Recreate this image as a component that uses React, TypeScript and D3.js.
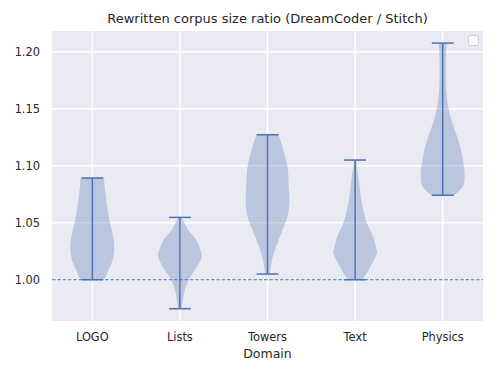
import React from "react";
import * as d3 from "d3";

// domains on the x axis
const domains = ["LOGO", "Lists", "Towers", "Text", "Physics"];

// extrema of each violin (min / max caps)
const mins = [1.0, 0.9746, 1.005, 1.0, 1.0741];
const maxs = [1.0892, 1.0547, 1.1272, 1.105, 1.2076];

// density profile of each violin: [ratio, relative density]
const logoProfile: [number, number][] = [
  [1.0006, 0.56], [1.0085, 0.74], [1.0173, 0.93], [1.026, 1.0], [1.0348, 0.98],
  [1.0497, 0.81], [1.061, 0.7], [1.0787, 0.58], [1.0892, 0.53],
];
const listsProfile: [number, number][] = [
  [0.9746, 0.08], [0.9883, 0.19], [0.9971, 0.33], [1.0059, 0.59], [1.0146, 0.88],
  [1.0217, 1.0], [1.026, 0.94], [1.0348, 0.75], [1.0436, 0.38], [1.0547, 0.08],
];
const towersProfile: [number, number][] = [
  [1.005, 0.1], [1.019, 0.23], [1.0304, 0.42], [1.0427, 0.67], [1.0568, 0.93],
  [1.069, 1.0], [1.0804, 0.97], [1.098, 0.92], [1.1155, 0.7], [1.1272, 0.5],
];
const textProfile: [number, number][] = [
  [1.0, 0.32], [1.0068, 0.56], [1.0155, 0.81], [1.0243, 1.0], [1.0269, 0.97],
  [1.0392, 0.79], [1.0506, 0.52], [1.0682, 0.3], [1.0857, 0.18], [1.105, 0.04],
];
const physicsProfile: [number, number][] = [
  [1.0741, 0.52], [1.082, 0.93], [1.09, 1.0], [1.1, 0.97], [1.11, 0.88],
  [1.12, 0.75], [1.13, 0.58], [1.14, 0.4], [1.155, 0.22], [1.17, 0.15],
  [1.19, 0.14], [1.2076, 0.18],
];
const profiles = [logoProfile, listsProfile, towersProfile, textProfile, physicsProfile];

const yTicks = [1.0, 1.05, 1.1, 1.15, 1.2];
const baseline = 1.0;

const W = 498;
const H = 374;
const margin = { left: 52, right: 15, top: 31, bottom: 53 };
const blue = "#4C72B0";
const ink = "#262626";
const font = "DejaVu Sans, sans-serif";

export default function App() {
  const x = d3.scaleLinear().domain([0.54, 5.46]).range([margin.left, W - margin.right]);
  const y = d3.scaleLinear().domain([0.9638, 1.2182]).range([H - margin.bottom, margin.top]);
  const halfW = x(1.25) - x(1);
  const capW = x(1.125) - x(1);

  const [x0, x1] = x.range();
  const [yb, yt] = y.range();

  return (
    <svg width={W} height={H} style={{ position: "absolute", left: 0, top: 0, background: "#fff" }}>
      <rect x={x0} y={yt} width={x1 - x0} height={yb - yt} fill="#EAEAF2" />

      {/* grid */}
      {yTicks.map(t => (
        <line key={"gy" + t} x1={x0} x2={x1} y1={y(t)} y2={y(t)} stroke="#fff" strokeWidth={1.4} />
      ))}
      {domains.map((d, i) => (
        <line key={"gx" + d} x1={x(i + 1)} x2={x(i + 1)} y1={yt} y2={yb} stroke="#fff" strokeWidth={1.4} />
      ))}

      {/* violins */}
      {profiles.map((p, i) => {
        const cx = x(i + 1);
        const area = d3
          .area<[number, number]>()
          .y(d => y(d[0]))
          .x0(d => cx - d[1] * halfW)
          .x1(d => cx + d[1] * halfW)
          .curve(d3.curveCatmullRom);
        return <path key={"v" + i} d={area(p) || ""} fill={blue} fillOpacity={0.3} />;
      })}

      {/* baseline */}
      <line x1={x0} x2={x1} y1={y(baseline)} y2={y(baseline)} stroke={blue} strokeWidth={1.1}
        strokeDasharray="3.7,1.6" />

      {/* bars and caps */}
      {domains.map((d, i) => {
        const cx = x(i + 1);
        return (
          <g key={"b" + d} stroke={blue} strokeWidth={1.5}>
            <line x1={cx} x2={cx} y1={y(mins[i])} y2={y(maxs[i])} />
            <line x1={cx - capW} x2={cx + capW} y1={y(mins[i])} y2={y(mins[i])} />
            <line x1={cx - capW} x2={cx + capW} y1={y(maxs[i])} y2={y(maxs[i])} />
          </g>
        );
      })}

      {/* empty legend */}
      <rect x={468.5} y={35.5} width={10} height={10} rx={2} fill="#fff" fillOpacity={0.8} stroke="#cccccc" />

      {/* tick labels */}
      {yTicks.map(t => (
        <text key={"ty" + t} x={x0 - 12} y={y(t)} dy="0.35em" textAnchor="end" fontFamily={font} fontSize={11.4} fill={ink}>
          {t.toFixed(2)}
        </text>
      ))}
      {domains.map((d, i) => (
        <text key={"tx" + d} x={x(i + 1)} y={yb + 20} textAnchor="middle" fontFamily={font} fontSize={11.4} fill={ink}>
          {d}
        </text>
      ))}

      <text x={(x0 + x1) / 2} y={yb + 37} textAnchor="middle" fontFamily={font} fontSize={12.5} fill={ink}>Domain</text>
      <text x={(x0 + x1) / 2} y={yt - 8} textAnchor="middle" fontFamily={font} fontSize={13} fill={ink}>
        Rewritten corpus size ratio (DreamCoder / Stitch)
      </text>
    </svg>
  );
}
